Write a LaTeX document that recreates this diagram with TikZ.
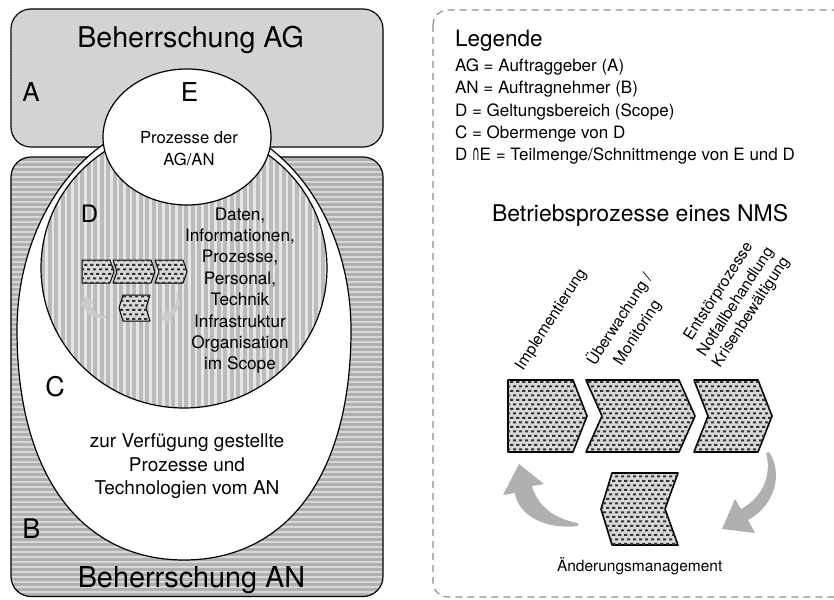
\documentclass[tikz,border=0pt]{standalone}
\usepackage{fontspec}
\usepackage{graphicx}
\setmainfont{TeX Gyre Heros}
\newfontfamily\symfont{DejaVu Sans}
\usetikzlibrary{patterns}
\definecolor{boxA}{HTML}{D2D2D2}
\definecolor{boxAdots}{HTML}{E8E8E8}
\definecolor{stripeBbg}{HTML}{D8D8D8}
\definecolor{stripeB}{HTML}{B0B0B0}
\definecolor{stripeDbg}{HTML}{E6E6E6}
\definecolor{stripeD}{HTML}{BBBBBB}
\definecolor{chevbg}{HTML}{D8D8D8}
\definecolor{chevdot}{HTML}{333333}
\definecolor{arrowgray}{HTML}{B0B0B0}
\definecolor{arrowlight}{HTML}{CBCBCB}
\definecolor{dashgray}{HTML}{8E8E8E}
\pgfdeclarepatternformonly{chevdots}{\pgfqpoint{-0.5pt}{-0.5pt}}{\pgfqpoint{6.5pt}{9.5pt}}{\pgfqpoint{6pt}{9pt}}{%
\pgfpathrectangle{\pgfqpoint{0pt}{0pt}}{\pgfqpoint{3.3pt}{2.2pt}}%
\pgfpathrectangle{\pgfqpoint{3pt}{4.5pt}}{\pgfqpoint{3pt}{2.2pt}}%
\pgfusepath{fill}}
\newcommand\fsz[2]{\fontsize{#1}{#2}\selectfont}
\tikzset{
  outl/.style={draw=black, line width=1.2pt},
  chev/.style={draw=black, line width=1.6pt, fill=chevbg, postaction={pattern=chevdots, pattern color=chevdot}},
  schev/.style={draw=black, line width=1pt, fill=chevbg, postaction={pattern=chevdots, pattern color=chevdot}},
  bigarrow/.style={fill=arrowgray, draw=none},
  smallarrow/.style={fill=arrowlight, draw=none},
  txt/.style={inner sep=0pt, outer sep=0pt},
  biglabel/.style={txt, anchor=base, font=\fsz{26}{30}},
  legitem/.style={txt, anchor=base west, font=\fsz{17}{21}},
  rotlbl/.style={txt, anchor=base west, rotate=57, font=\fsz{15.7}{19}}
}
\begin{document}
\begin{tikzpicture}[x=1pt, y=-1pt, line join=round]
\useasboundingbox (0,0) rectangle (834,599);
% ---------- Box A ----------
\draw[outl, rounded corners=20pt, fill=boxA, postaction={pattern=dots, pattern color=boxAdots}] (11,9) rectangle (383,147);
% ---------- Box B (horizontal stripes) ----------
\begin{scope}
  \clip[rounded corners=20pt] (11,157) rectangle (383,596.5);
  \fill[stripeBbg] (11,157) rectangle (383,597);
  \foreach \yy in {158,163,...,598} \fill[stripeB] (11,\yy) rectangle (383,\yy+2.5);
\end{scope}
\draw[outl, rounded corners=20pt] (11,157) rectangle (383,596.5);
% ---------- C ----------
\path[outl, fill=white] (17,330) .. controls (17,213) and (92,118) .. (184,118)
   .. controls (276,118) and (351,213) .. (351,330)
   .. controls (351,480) and (283,560) .. (184,560)
   .. controls (85,560) and (17,480) .. (17,330) -- cycle;
% ---------- D (vertical stripes) ----------
\begin{scope}
  \clip (184,268) ellipse [x radius=143, y radius=140];
  \fill[stripeDbg] (40,127) rectangle (328,409);
  \foreach \xx in {41,47.5,...,328} \fill[stripeD] (\xx,127) rectangle (\xx+4,409);
\end{scope}
\draw[outl] (184,268) ellipse [x radius=143, y radius=140];
% ---------- E ----------
\draw[outl, fill=white] (187,137) ellipse [x radius=84, y radius=68];
% ---------- left texts ----------
\node[txt, anchor=base, font=\fsz{28.6}{34}] (titleAG) at (190.5,48) {Beherrschung AG};
\node[biglabel] (labA) at (31,102) {A};
\node[biglabel] (labE) at (189.5,102) {E};
\node[txt, align=center, font=\fsz{16.6}{22.5}] (txtE) at (189,148.5) {Prozesse der\\AG/AN};
\node[biglabel, font=\fsz{24}{28}] (labD) at (89.5,222) {D};
\node[txt, align=center, font=\fsz{17.2}{21.4}] (txtD) at (240,290.6) {Daten,\\Informationen,\\Prozesse,\\Personal,\\Technik\\Infrastruktur\\Organisation\\im Scope};
\node[biglabel, font=\fsz{27}{30}] (labC) at (55,396) {C};
\node[txt, align=center, font=\fsz{19}{23.5}] (txtC) at (187,466.5) {zur Verfügung gestellte\\Prozesse und\\Technologien vom AN};
\node[biglabel, font=\fsz{27}{30}] (labB) at (31.5,538) {B};
\node[txt, anchor=base, font=\fsz{28.8}{34}] (titleAN) at (191.5,587) {Beherrschung AN};
% ---------- small chevrons in D ----------
\path[schev] (82,260) -- (110,260) -- (114,271.5) -- (110,283) -- (82,283) -- cycle;
\path[schev] (113,260) -- (151,260) -- (155,271.5) -- (151,283) -- (113,283) -- (117,271.5) -- cycle;
\path[schev] (155,260) -- (183,260) -- (187,271.5) -- (183,283) -- (155,283) -- (159,271.5) -- cycle;
\path[schev] (123,295) -- (150,295) -- (146,308) -- (150,321) -- (123,321) -- (119,308) -- cycle;
% small arrows
\path[smallarrow] (106.3,317.7) .. controls (94.7,319.1) and (85.3,313.9) .. (84.2,306.2) -- (80,306.9) -- (85.6,296) -- (94.4,303) -- (90.2,303.7) .. controls (92.3,311.1) and (98.2,315.3) .. (106.3,316.7) -- cycle;
\path[smallarrow] (177.5,293) .. controls (182.4,300) and (179.9,311.6) .. (170.1,316.8) -- (172.6,321.4) -- (161,320) -- (165.6,309.5) -- (167.7,313) .. controls (175.4,308.8) and (178.5,301) .. (176.4,293.4) -- cycle;
% ---------- right panel ----------
\draw[dashgray, line width=1.2pt, dash pattern=on 7pt off 5pt, rounded corners=15pt] (433,10) rectangle (870,597);
\node[txt, anchor=base west, font=\fsz{22.5}{26}] (leg) at (455,47) {Legende};
\node[legitem] (leg1) at (455,72) {AG = Auftraggeber (A)};
\node[legitem] (leg2) at (455,94) {AN = Auftragnehmer (B)};
\node[legitem] (leg3) at (455,116.5) {D = Geltungsbereich (Scope)};
\node[legitem] (leg4) at (455,138) {C = Obermenge von D};
\node[legitem] (leg5) at (455,160) {D \scalebox{0.62}[1.25]{\symfont ∩}E = Teilmenge/Schnittmenge von E und D};
\node[txt, anchor=base west, font=\fsz{23}{27}] (nmstitle) at (492,221.5) {Betriebsprozesse eines NMS};
% big chevrons
\path[chev] (508,380) -- (573,380) -- (587,416) -- (573,452) -- (508,452) -- cycle;
\path[chev] (586,380) -- (679,380) -- (695,416) -- (679,452) -- (586,452) -- (602,416) -- cycle;
\path[chev] (694,380) -- (758,380) -- (772,416) -- (758,452) -- (694,452) -- (708,416) -- cycle;
\path[chev] (612,473) -- (678,473) -- (665,509) -- (678,545) -- (612,545) -- (601,509) -- cycle;
% rotated labels
\node[rotlbl] (impl) at (523,371) {Implementierung};
\node[rotlbl] (ueb1) at (595,366.5) {Überwachung /};
\node[rotlbl] (ueb2) at (621.5,366) {Monitoring};
\node[rotlbl] (ent1) at (691.5,341.5) {Entstörprozesse};
\node[rotlbl] (ent2) at (705,357.5) {Notfallbehandlung};
\node[rotlbl] (ent3) at (720,368) {Krisenbewältigung};
\node[txt, anchor=base west, font=\fsz{15.5}{19}] (aend) at (557,571.5) {Änderungsmanagement};
% big arrows
\path[bigarrow] (578,526) .. controls (545,530) and (518,515) .. (515,493) -- (503,495) -- (519,464) -- (544,484) -- (532,486) .. controls (538,507) and (555,519) .. (578,523) -- cycle;
\path[bigarrow] (769,452) .. controls (783,472) and (776,505) .. (748,520) -- (755,533) -- (722,529) -- (735,499) -- (741,509) .. controls (763,497) and (772,475) .. (766,453) -- cycle;
\end{tikzpicture}
\end{document}
